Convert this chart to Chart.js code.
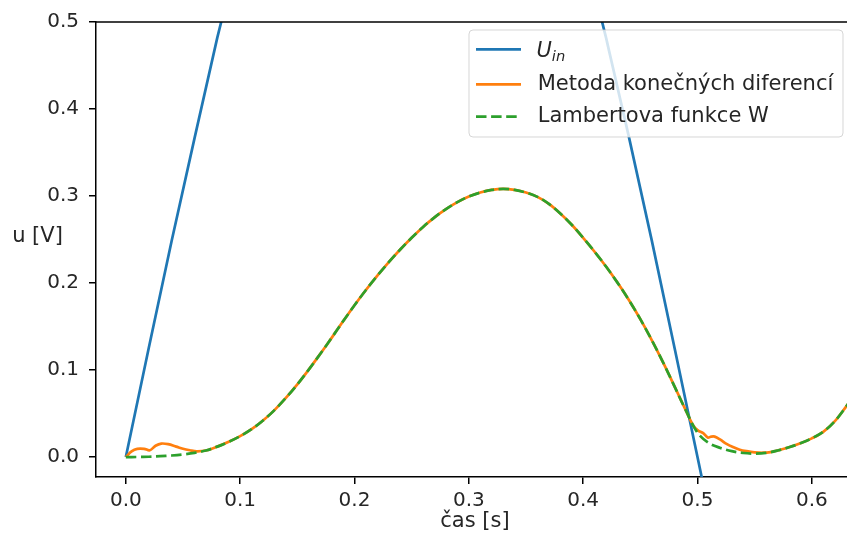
<!DOCTYPE html>
<html>
<head>
<meta charset="utf-8">
<script src="https://cdn.jsdelivr.net/npm/chart.js@4/dist/chart.umd.min.js"></script>
<style>
  html, body { margin: 0; padding: 0; background: #fff; overflow: hidden; }
  #wrap { width: 847px; height: 542px; overflow: hidden; }
</style>
</head>
<body>
<div id="wrap"><canvas id="chart" width="850" height="542"></canvas></div>
<script>
// U_in (vstupní napětí)
const uinTime  = [0, 0.02, 0.04, 0.06, 0.08, 0.1, 0.25, 0.4, 0.42, 0.44, 0.46, 0.48, 0.5, 0.52];
const uinValue = [0, 0.125, 0.248, 0.366, 0.482, 0.588, 1.0, 0.588, 0.482, 0.368, 0.249, 0.125, 0.0, -0.125];

// Metoda konečných diferencí
const mkdTime = [0, 0.005, 0.01, 0.016, 0.021, 0.026, 0.031, 0.037, 0.044, 0.05, 0.056, 0.062, 0.07,
  0.08, 0.09, 0.1, 0.11, 0.12, 0.13, 0.14, 0.15, 0.16, 0.17, 0.18, 0.19, 0.2, 0.21, 0.22, 0.23, 0.24,
  0.25, 0.26, 0.27, 0.28, 0.29, 0.3, 0.31, 0.32, 0.33, 0.34, 0.35, 0.36, 0.37, 0.38, 0.39, 0.4, 0.41,
  0.42, 0.43, 0.44, 0.45, 0.46, 0.47, 0.48, 0.49, 0.496, 0.5, 0.505, 0.509, 0.512, 0.515, 0.52, 0.525,
  0.531, 0.537, 0.543, 0.55, 0.557, 0.564, 0.57, 0.58, 0.59, 0.6, 0.61, 0.62, 0.63, 0.64];
const mkdValue = [0, 0.0065, 0.0095, 0.0095, 0.0078, 0.013, 0.0155, 0.0148, 0.012, 0.0095, 0.0078, 0.0066, 0.0075,
  0.012, 0.0175, 0.024, 0.032, 0.042, 0.054, 0.068, 0.0835, 0.1005, 0.1185, 0.137, 0.156, 0.1745, 0.192, 0.2085, 0.224, 0.2385,
  0.252, 0.2645, 0.2755, 0.285, 0.293, 0.2995, 0.304, 0.307, 0.3082, 0.307, 0.304, 0.299, 0.291, 0.280, 0.267, 0.252, 0.236,
  0.219, 0.2005, 0.1805, 0.1585, 0.1345, 0.1085, 0.081, 0.053, 0.037, 0.031, 0.0275, 0.0225, 0.0235, 0.0235, 0.020, 0.0155,
  0.0115, 0.0085, 0.0068, 0.0055, 0.005, 0.0057, 0.0075, 0.0112, 0.0158, 0.0215, 0.029, 0.041, 0.058, 0.076];

// Lambertova funkce W
const lwTime = [0, 0.01, 0.02, 0.03, 0.04, 0.05, 0.06, 0.07, 0.08, 0.09, 0.1, 0.11, 0.12, 0.13, 0.14, 0.15,
  0.16, 0.17, 0.18, 0.19, 0.2, 0.21, 0.22, 0.23, 0.24, 0.25, 0.26, 0.27, 0.28, 0.29, 0.3, 0.31, 0.32, 0.33,
  0.34, 0.35, 0.36, 0.37, 0.38, 0.39, 0.4, 0.41, 0.42, 0.43, 0.44, 0.45, 0.46, 0.47, 0.48, 0.49, 0.5, 0.51,
  0.52, 0.53, 0.54, 0.55, 0.56, 0.57, 0.58, 0.59, 0.6, 0.61, 0.62, 0.63, 0.64];
const lwValue = [0, 0.0001, 0.0004, 0.001, 0.0018, 0.003, 0.0048, 0.0075, 0.012, 0.0175, 0.024, 0.032, 0.042, 0.054, 0.068, 0.0835,
  0.1005, 0.1185, 0.137, 0.156, 0.1745, 0.192, 0.2085, 0.224, 0.2385, 0.252, 0.2645, 0.2755, 0.285, 0.293, 0.2995, 0.304, 0.307, 0.3082,
  0.307, 0.304, 0.299, 0.291, 0.280, 0.267, 0.252, 0.236, 0.219, 0.2005, 0.1805, 0.1585, 0.1345, 0.1085, 0.081, 0.053, 0.028, 0.016,
  0.0105, 0.0068, 0.0047, 0.004, 0.0048, 0.0075, 0.0112, 0.0158, 0.0215, 0.029, 0.041, 0.058, 0.076];

// osy
const xTicks = [0, 0.1, 0.2, 0.3, 0.4, 0.5, 0.6];
const yTicks = [0, 0.1, 0.2, 0.3, 0.4, 0.5];
const xMin = -0.0261, xMax = 0.6334;
const yMin = -0.0229, yMax = 0.5;

const FONT = 'DejaVu Sans';
const TXT = '#262626';
const BLUE = '#1f77b4', ORANGE = '#ff7f0e', GREEN = '#2ca02c';
const LW = 2.7;

const toXY = (ts, vs) => ts.map((t, i) => ({ x: t, y: vs[i] }));

// rámeček nahoře, popisky os a legenda (jako v matplotlibu)
const extras = {
  id: 'extras',
  afterDraw(chart) {
    const { ctx, chartArea: a } = chart;
    ctx.save();
    ctx.strokeStyle = '#000';
    ctx.lineWidth = 1.5;
    ctx.beginPath();
    ctx.moveTo(a.left - 0.75, a.top);
    ctx.lineTo(a.right + 2, a.top);
    ctx.stroke();

    ctx.fillStyle = TXT;
    ctx.font = `21px "${FONT}"`;
    ctx.textAlign = 'center';
    ctx.textBaseline = 'middle';
    ctx.fillText('u [V]', 37.5, 237);
    ctx.fillText('čas [s]', 475, 522);

    // legenda
    const bx = 469, by = 30, bw = 374, bh = 107, r = 4;
    ctx.beginPath();
    ctx.roundRect(bx, by, bw, bh, r);
    ctx.fillStyle = 'rgba(255,255,255,0.8)';
    ctx.fill();
    ctx.strokeStyle = 'rgba(204,204,204,0.8)';
    ctx.lineWidth = 1;
    ctx.stroke();

    const rows = [
      { y: 49.3, color: BLUE, dash: [] },
      { y: 84.3, color: ORANGE, dash: [], label: 'Metoda konečných diferencí' },
      { y: 116.7, color: GREEN, dash: [10.5, 4.6], label: 'Lambertova funkce W' }
    ];
    rows.forEach(row => {
      ctx.beginPath();
      ctx.setLineDash(row.dash);
      ctx.strokeStyle = row.color;
      ctx.lineWidth = LW;
      ctx.moveTo(476, row.y);
      ctx.lineTo(521, row.y);
      ctx.stroke();
      ctx.setLineDash([]);
      if (row.label) {
        ctx.fillStyle = TXT;
        ctx.textAlign = 'left';
        ctx.font = `21px "${FONT}"`;
        ctx.fillText(row.label, 537.7, row.y);
      }
    });
    // U_in s kurzívou a dolním indexem
    ctx.fillStyle = TXT;
    ctx.textAlign = 'left';
    ctx.textBaseline = 'alphabetic';
    ctx.font = `italic 21px "${FONT}"`;
    ctx.fillText('U', 536.5, 56.7);
    const uw = ctx.measureText('U').width;
    ctx.font = `italic 14.7px "${FONT}"`;
    ctx.fillText('in', 536.5 + uw, 60.5);
    ctx.restore();
  }
};

const axisCommon = {
  type: 'linear',
  grid: { drawOnChartArea: false, drawTicks: true, tickLength: 7, color: '#000', lineWidth: 1.5 },
  border: { display: true, color: '#000', width: 1.5 }
};

new Chart(document.getElementById('chart'), {
  type: 'line',
  data: {
    datasets: [
      {
        label: 'U_in',
        data: toXY(uinTime, uinValue),
        borderColor: BLUE, borderWidth: LW, pointRadius: 0, tension: 0,
        clip: 0, order: 3
      },
      {
        label: 'Metoda konečných diferencí',
        data: toXY(mkdTime, mkdValue),
        borderColor: ORANGE, borderWidth: LW, pointRadius: 0, tension: 0.35,
        clip: 0, order: 2
      },
      {
        label: 'Lambertova funkce W',
        data: toXY(lwTime, lwValue),
        borderColor: GREEN, borderWidth: LW, borderDash: [10.5, 4.6], pointRadius: 0,
        tension: 0.35, clip: 0, order: 1
      }
    ]
  },
  options: {
    responsive: false,
    animation: false,
    devicePixelRatio: 1,
    layout: { padding: { top: 20, right: 0, left: 0, bottom: 0 } },
    plugins: { legend: { display: false }, tooltip: { enabled: false } },
    scales: {
      x: {
        ...axisCommon,
        min: xMin, max: xMax,
        afterBuildTicks: s => { s.ticks = xTicks.map(v => ({ value: v })); },
        afterFit: s => { s.height = 65; },
        ticks: { callback: v => v.toFixed(1), font: { family: FONT, size: 20 }, color: TXT, padding: 5, maxRotation: 0, autoSkip: false }
      },
      y: {
        ...axisCommon,
        min: yMin, max: yMax,
        afterBuildTicks: s => { s.ticks = yTicks.map(v => ({ value: v })); },
        afterFit: s => { s.width = 96; },
        ticks: { callback: v => v.toFixed(1), font: { family: FONT, size: 20 }, color: TXT, padding: 10, autoSkip: false }
      }
    }
  },
  plugins: [extras]
});
</script>
</body>
</html>
